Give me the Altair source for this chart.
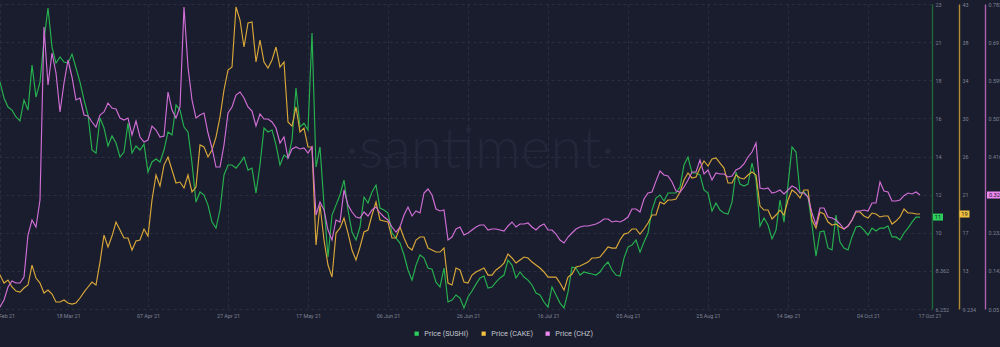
import json
import altair as alt
import pandas as pd

# ---------------- data (daily, first value = 2021-02-28) ----------------
START = "2021-02-28"
SERIES = ["Price (SUSHI)", "Price (CAKE)", "Price (CHZ)"]

sushi = [
    19.3,
    18.81, 17.93, 17.43, 17.26, 16.88, 16.66, 17.82, 17.26, 19.75, 17.98,
    18.81, 21.14, 22.91, 20.75, 19.86, 20.2, 19.92, 19.86, 20.36, 19.59,
    18.81, 17.82, 16.99, 15.05, 14.88, 16.82, 16.27, 15.27, 15.83, 15.44,
    14.66, 14.94, 16.54, 14.88, 15.27, 15.05, 15.38, 13.83, 14.39, 14.55,
    14.39, 15.05, 16.05, 15.88, 17.54, 17.26, 16.32, 16.05, 14.33, 12.17,
    12.73, 12.56, 12.0, 11.06, 10.73, 11.73, 13.67, 14.22, 14.22, 14.05,
    14.33, 14.66, 13.94, 14.05, 12.67, 14.22, 16.27, 16.05, 16.16, 15.33,
    14.22, 14.77, 14.61, 15.6, 18.48, 16.32, 16.54, 16.16, 21.52, 14.11,
    15.22, 12.0, 9.13, 11.45, 12.0, 12.56, 13.39, 11.73, 10.51, 10.07,
    10.79, 12.45, 12.12, 12.73, 13.11, 11.84, 11.73, 11.56, 10.46, 10.18,
    9.9, 9.24, 8.41, 7.85, 8.68, 9.24, 9.07, 8.52, 8.46, 7.74,
    7.47, 8.52, 6.64, 6.75, 7.03, 6.86, 6.31, 6.92, 7.25, 7.63,
    7.97, 8.08, 7.41, 7.47, 7.74, 7.97, 8.13, 8.96, 8.68, 7.97,
    8.3, 8.02, 7.85, 7.58, 7.14, 7.03, 6.64, 6.36, 7.47, 7.03,
    6.58, 6.31, 7.19, 8.57, 8.52, 8.13, 8.3, 8.24, 8.19, 8.13,
    8.3, 8.63, 8.85, 8.41, 8.13, 8.08, 9.07, 9.68, 9.79, 10.07,
    9.4, 9.96, 10.46, 11.73, 12.39, 12.56, 12.23, 12.67, 12.67, 12.67,
    13.0, 14.22, 14.66, 13.78, 13.78, 13.67, 12.84, 12.67, 11.67, 12.12,
    11.73, 11.56, 11.51, 12.17, 13.83, 13.17, 13.06, 13.17, 14.33, 13.39,
    10.84, 11.29, 10.9, 10.13, 10.62, 12.28, 11.06, 13.11, 15.22, 14.94,
    12.67, 12.73, 12.45, 10.9, 9.18, 10.51, 10.57, 9.63, 9.52, 11.45,
    9.96, 9.63, 9.52, 10.24, 10.79, 10.84, 10.62, 10.35, 10.73, 10.57,
    10.73, 10.73, 10.84, 10.24, 10.24, 10.07, 10.46, 10.73, 11.06, 11.34,
    11.34,
]

cake = [
    13.55,
    12.99, 12.11, 12.44, 11.67, 11.22, 11.11, 11.56, 11.89, 14.1, 12.66,
    12.11, 11.0, 11.33, 10.89, 10.01, 10.01, 10.23, 9.9, 9.78, 9.9,
    10.45, 11.11, 11.67, 12.22, 11.89, 14.43, 17.42, 16.1, 17.31, 18.86,
    17.98, 17.09, 17.09, 15.76, 16.76, 16.87, 18.09, 17.31, 21.3, 24.07,
    22.85, 25.17, 26.06, 24.62, 23.18, 23.29, 22.63, 24.07, 22.19, 22.74,
    27.39, 27.17, 26.06, 26.84, 28.27, 30.49, 33.48, 35.69, 36.02, 42.67,
    41.23, 38.24, 40.9, 41.01, 36.58, 39.01, 36.58, 35.91, 36.8, 38.24,
    36.02, 36.58, 29.94, 29.49, 31.6, 28.83, 29.27, 27.17, 27.17, 16.32,
    20.75, 16.87, 14.1, 12.77, 17.64, 18.2, 19.31, 17.64, 15.76, 14.66,
    16.1, 17.76, 17.98, 19.64, 21.08, 19.09, 18.97, 18.86, 17.09, 17.09,
    18.31, 17.09, 16.1, 15.76, 16.87, 17.2, 17.2, 15.98, 15.76, 15.54,
    15.54, 15.98, 12.11, 11.89, 13.77, 13.55, 12.22, 12.11, 12.99, 13.33,
    13.55, 13.77, 12.99, 12.99, 13.55, 13.88, 14.32, 15.32, 14.88, 14.32,
    14.66, 14.99, 14.88, 14.43, 14.1, 13.77, 13.33, 12.77, 12.77, 12.77,
    12.11, 11.33, 12.77, 13.1, 13.88, 13.99, 14.21, 14.43, 14.88, 14.88,
    14.99, 15.54, 16.1, 15.98, 15.98, 16.87, 17.53, 17.64, 18.09, 18.09,
    17.53, 18.09, 18.75, 19.64, 19.64, 21.08, 20.86, 21.3, 21.3, 21.41,
    22.19, 23.51, 24.29, 23.74, 23.85, 24.84, 25.62, 25.06, 25.84, 25.95,
    25.39, 24.84, 23.18, 23.18, 24.07, 23.74, 23.63, 24.07, 24.4, 24.07,
    20.63, 20.19, 20.19, 19.2, 19.64, 20.19, 19.64, 21.3, 22.41, 22.08,
    21.52, 22.41, 22.41, 19.09, 18.2, 19.97, 19.75, 18.86, 18.53, 18.64,
    18.31, 18.09, 18.42, 19.09, 19.97, 19.97, 19.53, 19.31, 19.86, 19.75,
    19.42, 19.53, 19.53, 18.64, 18.97, 19.42, 20.3, 19.86, 19.86, 19.75,
    19.75,
]

chz = [
    0.045,
    0.0548, 0.0716, 0.1028, 0.1172, 0.1124, 0.1124, 0.1268, 0.2276, 0.2636, 0.2468,
    0.3116, 0.7268, 0.5876, 0.6644, 0.6164, 0.5228, 0.5924, 0.6476, 0.6068, 0.5516,
    0.5564, 0.5156, 0.5132, 0.4988, 0.4868, 0.5156, 0.5228, 0.5444, 0.5324, 0.53,
    0.5084, 0.5036, 0.5084, 0.4676, 0.5012, 0.4628, 0.4508, 0.4556, 0.4892, 0.4796,
    0.4628, 0.4652, 0.5708, 0.5276, 0.5084, 0.5348, 0.7748, 0.6308, 0.5516, 0.5084,
    0.5156, 0.5204, 0.4724, 0.4364, 0.3908, 0.3908, 0.4436, 0.5204, 0.5348, 0.5636,
    0.5708, 0.5564, 0.5348, 0.5252, 0.4892, 0.518, 0.506, 0.506, 0.4988, 0.4844,
    0.4484, 0.4628, 0.4124, 0.434, 0.4388, 0.434, 0.4364, 0.4244, 0.4388, 0.2756,
    0.3068, 0.2876, 0.2396, 0.2156, 0.2636, 0.2588, 0.3356, 0.2996, 0.2828, 0.2708,
    0.2684, 0.2828, 0.2732, 0.2876, 0.2948, 0.2804, 0.2708, 0.2636, 0.2468, 0.2348,
    0.2468, 0.2756, 0.2948, 0.2732, 0.2852, 0.2804, 0.3284, 0.338, 0.3236, 0.29,
    0.2852, 0.2876, 0.2156, 0.2228, 0.242, 0.2468, 0.2276, 0.2324, 0.2396, 0.2468,
    0.2516, 0.2516, 0.2396, 0.242, 0.242, 0.2396, 0.2372, 0.2492, 0.2588, 0.2468,
    0.254, 0.254, 0.2564, 0.2468, 0.2396, 0.2492, 0.254, 0.2396, 0.2396, 0.23,
    0.2156, 0.2084, 0.2228, 0.2324, 0.242, 0.2468, 0.2492, 0.2492, 0.2516, 0.254,
    0.2588, 0.266, 0.266, 0.2588, 0.2612, 0.2588, 0.2636, 0.2708, 0.29, 0.29,
    0.2828, 0.314, 0.3284, 0.3308, 0.357, 0.381, 0.3716, 0.3692, 0.3548, 0.3332,
    0.3308, 0.3428, 0.3596, 0.3788, 0.3788, 0.4076, 0.374, 0.3836, 0.3596, 0.3764,
    0.374, 0.374, 0.3668, 0.3692, 0.3836, 0.3884, 0.398, 0.4148, 0.4268, 0.4484,
    0.3404, 0.338, 0.3404, 0.3284, 0.3308, 0.3356, 0.326, 0.3356, 0.3452, 0.3404,
    0.3284, 0.3284, 0.3188, 0.2804, 0.2516, 0.2924, 0.2924, 0.2708, 0.2684, 0.2636,
    0.254, 0.242, 0.2492, 0.2636, 0.2852, 0.2852, 0.2876, 0.2852, 0.3044, 0.3044,
    0.3548, 0.3332, 0.3308, 0.3092, 0.3092, 0.3116, 0.322, 0.3284, 0.326, 0.3308,
    0.3236,
]

# axis ticks and labels
x_tick_dates = ["2021-03-01", "2021-03-18", "2021-04-07", "2021-04-27", "2021-05-17",
                "2021-06-06", "2021-06-26", "2021-07-16", "2021-08-05", "2021-08-25",
                "2021-09-14", "2021-10-04", "2021-10-20"]
x_tick_labels = ["26 Feb 21", "18 Mar 21", "07 Apr 21", "27 Apr 21", "17 May 21",
                 "06 Jun 21", "26 Jun 21", "16 Jul 21", "05 Aug 21", "25 Aug 21",
                 "14 Sep 21", "04 Oct 21", "17 Oct 21"]
x_domain = ["2021-03-01", "2021-10-20"]

sushi_ticks = [6.252, 8.362, 10.472, 12.582, 14.692, 16.802, 18.912, 21.022, 23.132]
sushi_labels = ["6.252", "8.362", "10", "12", "14", "16", "18", "21", "23"]
cake_ticks = [9.234, 13.455, 17.676, 21.897, 26.118, 30.339, 34.56, 38.781, 43.002]
cake_labels = ["9.234", "13", "17", "21", "26", "30", "34", "38", "43"]
chz_ticks = [0.05, 0.1415, 0.233, 0.3245, 0.416, 0.5075, 0.599, 0.6905, 0.782]
chz_labels = ["0.05", "0.142", "0.233", "0.324", "0.416", "0.507", "0.599", "0.69", "0.782"]

# ---------------- styling ----------------
BG = "#1a1d2d"
GRID = "#2a2e41"
LABEL = "#7f8497"
FONT = "Roboto"
LINE_COLORS = ["#27b250", "#daa83a", "#d26fd7"]
TAG_COLORS = ["#2ccf5c", "#f1c040", "#ee88f2"]
AXIS_COLORS = ["#21673a", "#b08b33", "#ad5fb1"]
W, H = 932, 305


def dt(s):
    y, m, d = map(int, s.split("-"))
    return alt.DateTime(year=y, month=m, date=d)


dates = pd.date_range(START, periods=len(sushi), freq="D")

x_enc = alt.X(
    "date:T",
    scale=alt.Scale(domain=[dt(s) for s in x_domain]),
    axis=alt.Axis(
        values=[dt(s) for s in x_tick_dates],
        labelExpr=json.dumps(x_tick_labels) + "[round(datum.index * %d)]" % (len(x_tick_labels) - 1),
        grid=True, gridColor=GRID, gridDash=[3, 3], gridWidth=1,
        domain=False, ticks=False, labelFontSize=5.4, labelColor=LABEL,
        labelPadding=4, labelFlush=True, labelFlushOffset=9, labelOverlap=False,
        title=None,
    ),
)


def tag_text(v):
    return str(int(v)) if v >= 10 else "%.3f" % v


def series_layers(i, values, ticks, labels, offset, grid, tag_x, tag_w, tag_shape):
    df = pd.DataFrame({"date": dates, "value": values})
    yscale = alt.Scale(domain=[ticks[0], ticks[-1]], nice=False, zero=False)
    y_enc = alt.Y(
        "value:Q", scale=yscale,
        axis=alt.Axis(
            orient="right", offset=offset, values=ticks,
            labelExpr=json.dumps(labels) + "[round(datum.index * %d)]" % (len(labels) - 1),
            grid=grid, gridColor=GRID, gridDash=[3, 3], gridWidth=1,
            domain=True, domainColor=AXIS_COLORS[i], domainWidth=1.4,
            ticks=False, labelFontSize=5.4, labelColor=LABEL, labelPadding=3,
            labelBaseline="middle", labelFlush=False, title=None,
        ),
    )
    line = alt.Chart(df).mark_line(
        color=LINE_COLORS[i], strokeWidth=1.15, clip=True
    ).encode(x=x_enc, y=y_enc)

    last = pd.DataFrame({"value": [values[-1]], "label": [tag_text(values[-1])]})
    y_tag = alt.Y("value:Q", scale=yscale, axis=None)
    box = alt.Chart(last).mark_point(
        shape=tag_shape, filled=True, fill=TAG_COLORS[i], opacity=1,
        strokeWidth=0, size=tag_w * tag_w,
    ).encode(x=alt.value(tag_x), y=y_tag)
    txt = alt.Chart(last).mark_text(
        fontSize=5.6, font=FONT, color="#15171f", align="center", baseline="middle",
    ).encode(x=alt.value(tag_x), y=y_tag, text="label:N")
    return [line, box, txt]


sushi_layers = series_layers(0, sushi, sushi_ticks, sushi_labels, 0, True, 938, 10,
                             "M-1,-0.7L1,-0.7L1,0.7L-1,0.7Z")
cake_layers = series_layers(1, cake, cake_ticks, cake_labels, 27, False, 964.5, 10,
                            "M-1,-0.7L1,-0.7L1,0.7L-1,0.7Z")
chz_layers = series_layers(2, chz, chz_ticks, chz_labels, 53, False, 996, 18,
                           "M-1,-0.39L1,-0.39L1,0.39L-1,0.39Z")

watermark = alt.Chart(pd.DataFrame({"t": ["\u00b7santiment\u00b7"]})).mark_text(
    font="Lato", fontWeight=300,
    fontSize=57, color="#232739", align="center", baseline="alphabetic",
).encode(x=alt.value(480), y=alt.value(164), text="t:N")

legend_layer = alt.Chart(pd.DataFrame({"series": SERIES})).mark_square(
    filled=True, size=16, opacity=1
).encode(
    x=alt.value(-60), y=alt.value(-60),
    color=alt.Color(
        "series:N",
        scale=alt.Scale(domain=SERIES, range=TAG_COLORS),
        legend=alt.Legend(
            orient="none", legendX=413, legendY=326, direction="horizontal",
            title=None, symbolType="square", symbolSize=18, symbolStrokeWidth=0,
            labelFontSize=7.3, labelColor="#c4c7d1", labelFont=FONT, labelOffset=4,
            columnPadding=11, padding=0,
        ),
    ),
)

chart = alt.layer(
    watermark, *sushi_layers, *cake_layers, *chz_layers, legend_layer
).resolve_scale(y="independent").properties(
    width=W, height=H,
    padding={"left": 0, "top": 4, "right": 68, "bottom": 38},
    autosize=alt.AutoSizeParams(type="none"),
    background=BG,
).configure_view(stroke=None).configure_axis(labelFont=FONT)

chart.save("out.html", embed_options={"renderer": "svg", "actions": False})
